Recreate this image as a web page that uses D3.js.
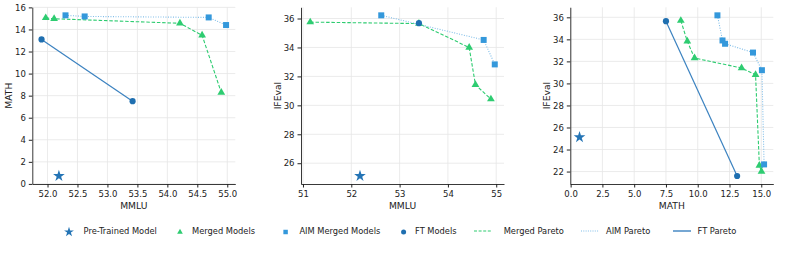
<!DOCTYPE html>
<html lang="en">
<head>
    <meta charset="UTF-8">
    <script src="https://d3js.org/d3.v7.min.js"></script>
    <title>Pareto fronts</title>
    <style>
        body { margin: 0; background: #fff; }
        text { font-family: 'DejaVu Sans', sans-serif; fill: #222; }
        .tick text { font-size: 8.5px; }
        .tick line { stroke: #222; }
        .domain { stroke: #222; }
        .grid line { stroke: #e6e6e6; stroke-width: 0.8; }
        text.axlabel { font-size: 9.2px; text-anchor: middle; }
        text.leg { font-size: 8.3px; dominant-baseline: middle; }
    </style>
</head>
<body>
<svg height="255" width="798"></svg>
<script>
    const width = 798, height = 255;

    // points per panel: [x, y]
    const star1 = [[52.19, 0.72]];
    const merged1 = [[51.97, 15.05], [52.11, 14.97], [54.21, 14.56], [54.58, 13.47], [54.9, 8.28]];
    const aim1 = [[52.3, 15.28], [52.62, 15.18], [54.69, 15.09], [54.98, 14.4]];
    const ft1 = [[51.9, 13.1], [53.42, 7.5]];

    const star2 = [[52.18, 25.12]];
    const merged2 = [[51.15, 35.75], [53.4, 35.65], [54.44, 34.0], [54.57, 31.42], [54.89, 30.43]];
    const aim2 = [[52.62, 36.22], [54.74, 34.52], [54.97, 32.83]];
    const ft2 = [[53.4, 35.68]];

    const star3 = [[0.7, 25.12]];
    const merged3 = [[8.67, 35.7], [9.18, 33.82], [9.75, 32.3], [13.45, 31.4], [14.55, 30.78], [14.85, 22.55], [15.02, 22.0]];
    const aim3 = [[11.55, 36.18], [11.95, 33.9], [12.15, 33.6], [14.35, 32.8], [15.05, 31.2], [15.22, 22.65]];
    const ft3 = [[7.5, 35.65], [13.1, 21.6]];

    const xTicks1 = [52.0, 52.5, 53.0, 53.5, 54.0, 54.5, 55.0];
    const yTicks1 = [0, 2, 4, 6, 8, 10, 12, 14, 16];
    const xTicks2 = [51, 52, 53, 54, 55];
    const yTicks2 = [26, 28, 30, 32, 34, 36];
    const xTicks3 = [0.0, 2.5, 5.0, 7.5, 10.0, 12.5, 15.0];
    const yTicks3 = [22, 24, 26, 28, 30, 32, 34, 36];

    const legendLabels = ["Pre-Trained Model", "Merged Models", "AIM Merged Models", "FT Models",
        "Merged Pareto", "AIM Pareto", "FT Pareto"];

    const cStar = "#2474b5", cMerged = "#2ecc71", cAim = "#3498db", cFt = "#1f6fb0";

    const svg = d3.select("svg");

    const panels = [
        {left: 32.3, star: star1, merged: merged1, aim: aim1, ft: ft1,
            xt: xTicks1, yt: yTicks1, xf: d3.format(".1f"), yf: d3.format("d"), xl: "MMLU", yl: "MATH", ylx: 9},
        {left: 301, star: star2, merged: merged2, aim: aim2, ft: ft2,
            xt: xTicks2, yt: yTicks2, xf: d3.format("d"), yf: d3.format("d"), xl: "MMLU", yl: "IFEval", ylx: 278},
        {left: 570.3, star: star3, merged: merged3, aim: aim3, ft: ft3,
            xt: xTicks3, yt: yTicks3, xf: d3.format(".1f"), yf: d3.format("d"), xl: "MATH", yl: "IFEval", ylx: 547}
    ];
    const pw = 203, plotTop = 7.3, plotBottom = 184;

    function padded(vals) {
        const [lo, hi] = d3.extent(vals);
        const m = (hi - lo) * 0.05;
        return [lo - m, hi + m];
    }

    const symStar = d3.symbol().type(d3.symbolStar).size(42);
    const symTri = d3.symbol().type(d3.symbolTriangle).size(26);
    const symSq = d3.symbol().type(d3.symbolSquare).size(36);
    const symCirc = d3.symbol().type(d3.symbolCircle).size(30);

    panels.forEach(p => {
        const all = [...p.star, ...p.merged, ...p.aim, ...p.ft];
        const x = d3.scaleLinear().domain(padded(all.map(d => d[0]))).range([p.left, p.left + pw]);
        const y = d3.scaleLinear().domain(padded(all.map(d => d[1]))).range([plotBottom, plotTop]);
        const g = svg.append("g");

        // grid
        g.append("g").attr("class", "grid")
            .selectAll("line.v").data(p.xt).enter().append("line")
            .attr("x1", x).attr("x2", x).attr("y1", plotTop).attr("y2", plotBottom);
        g.append("g").attr("class", "grid")
            .selectAll("line.h").data(p.yt).enter().append("line")
            .attr("x1", p.left).attr("x2", p.left + pw).attr("y1", y).attr("y2", y);

        g.append("g").attr("transform", `translate(0,${plotBottom})`)
            .call(d3.axisBottom(x).tickValues(p.xt).tickFormat(p.xf).tickSize(3.5).tickSizeOuter(0))
            .call(a => a.selectAll(".tick text").attr("dy", "0.8em"));
        g.append("g").attr("transform", `translate(${p.left},0)`)
            .call(d3.axisLeft(y).tickValues(p.yt).tickFormat(p.yf).tickSize(3.5).tickSizeOuter(0));
        g.selectAll(".domain").attr("stroke-width", 0.9);

        g.append("text").attr("class", "axlabel")
            .attr("x", p.left + pw / 2).attr("y", 208.5).text(p.xl);
        g.append("text").attr("class", "axlabel")
            .attr("transform", `translate(${p.ylx},${(plotTop + plotBottom) / 2}) rotate(-90)`)
            .attr("dy", "0.35em").text(p.yl);

        const line = d3.line().x(d => x(d[0])).y(d => y(d[1]));
        g.append("path").datum(p.merged).attr("d", line)
            .attr("fill", "none").attr("stroke", cMerged).attr("stroke-width", 1.1)
            .attr("stroke-dasharray", "3.5,1.8");
        g.append("path").datum(p.aim).attr("d", line)
            .attr("fill", "none").attr("stroke", "#7fbde8").attr("stroke-width", 1.1)
            .attr("stroke-dasharray", "1,1.5");
        g.append("path").datum(p.ft).attr("d", line)
            .attr("fill", "none").attr("stroke", "#3b82c0").attr("stroke-width", 1.2);

        g.selectAll("path.ms").data(p.merged).enter().append("path")
            .attr("transform", d => `translate(${x(d[0])},${y(d[1])})`)
            .attr("d", symTri).attr("fill", cMerged);
        g.selectAll("path.as").data(p.aim).enter().append("path")
            .attr("transform", d => `translate(${x(d[0])},${y(d[1])})`)
            .attr("d", symSq).attr("fill", cAim);
        g.selectAll("path.fs").data(p.ft).enter().append("path")
            .attr("transform", d => `translate(${x(d[0])},${y(d[1])})`)
            .attr("d", symCirc).attr("fill", cFt);
        g.selectAll("path.ss").data(p.star).enter().append("path")
            .attr("transform", d => `translate(${x(d[0])},${y(d[1])})`)
            .attr("d", symStar).attr("fill", cStar);
    });

    // legend
    const legX = [69, 180, 285.6, 403.6, 474, 581, 673];
    const legTx = [83.6, 192, 299.4, 415, 503.7, 606, 697.5];
    const legY = 232;
    const lg = svg.append("g");
    const markerSyms = [[d3.symbol().type(d3.symbolStar).size(30), cStar],
        [d3.symbol().type(d3.symbolTriangle).size(14), cMerged],
        [d3.symbol().type(d3.symbolSquare).size(20), cAim],
        [d3.symbol().type(d3.symbolCircle).size(20), cFt]];
    markerSyms.forEach((m, i) => {
        lg.append("path").attr("transform", `translate(${legX[i]},${legY})`)
            .attr("d", m[0]).attr("fill", m[1]);
    });
    const lineStyles = [[cMerged, "3,1.6", 1.1], ["#7fbde8", "1,1.3", 1.1], ["#3b82c0", null, 1.4]];
    lineStyles.forEach((s, j) => {
        const i = j + 4;
        lg.append("line").attr("x1", legX[i]).attr("x2", legX[i] + 18)
            .attr("y1", legY - 1).attr("y2", legY - 1)
            .attr("stroke", s[0]).attr("stroke-width", s[2])
            .attr("stroke-dasharray", s[1]);
    });
    legendLabels.forEach((t, i) => {
        lg.append("text").attr("class", "leg").attr("x", legTx[i]).attr("y", legY - 1).text(t);
    });
</script>
</body>
</html>
